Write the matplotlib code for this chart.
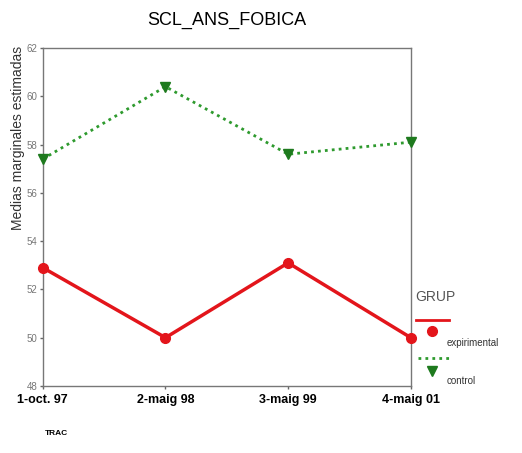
import numpy as np
import matplotlib
matplotlib.use('Agg')
import matplotlib.pyplot as plt
from matplotlib.lines import Line2D

plt.rcParams['font.family'] = ['Liberation Sans', 'DejaVu Sans']

categories = ['1-oct. 97', '2-maig 98', '3-maig 99', '4-maig 01']
experimental = [52.9, 50.0, 53.1, 50.0]
control = [57.4, 60.4, 57.6, 58.1]
yticks = [48, 50, 52, 54, 56, 58, 60, 62]

fig = plt.figure(figsize=(5.22, 4.53), dpi=100)
ax = fig.add_axes([0.082, 0.148, 0.705, 0.746])

x = np.arange(len(categories))
ax.plot(x, experimental, color='#e3151b', lw=2.5, marker='o', ms=7,
        solid_joinstyle='miter', clip_on=False, zorder=3)
ax.plot(x, control, color='#2e9a2e', lw=2, ls=(0, (1, 1.5)), marker='v', ms=7,
        markerfacecolor='#1e7a1e', markeredgecolor='#1e7a1e', clip_on=False,
        zorder=3)

ax.set_xlim(0, len(categories) - 1)
ax.set_ylim(48, 62)
ax.set_xticks(x)
ax.set_xticklabels(categories, fontsize=9, fontweight='bold')
ax.set_yticks(yticks)
ax.set_yticklabels([str(v) for v in yticks], fontsize=7, color='#777777')
ax.tick_params(axis='y', length=2, width=1, color='#666666', pad=2)
ax.tick_params(axis='x', length=2, width=1, color='#666666', pad=4)
for s in ax.spines.values():
    s.set_color('#777777')
    s.set_linewidth(1)

fig.text(0.435, 0.955, 'SCL_ANS_FOBICA', ha='center', va='center', fontsize=13)
fig.text(0.035, 0.695, 'Medias marginales estimadas', rotation=90,
         ha='center', va='center', fontsize=10, color='#333333')
fig.text(0.086, 0.04, 'TRAC', fontsize=6, fontweight='bold')

# legend
fig.text(0.795, 0.345, 'GRUP', fontsize=10, color='#555555', va='center')
fig.add_artist(Line2D([0.797, 0.86], [0.293, 0.293], color='#e3151b', lw=2))
fig.add_artist(Line2D([0.828], [0.27], color='#e3151b', marker='o', ms=7))
fig.text(0.855, 0.243, 'expirimental', fontsize=7, va='center', color='#333333')
fig.add_artist(Line2D([0.8, 0.86], [0.21, 0.21], color='#2e9a2e', lw=2,
                      ls=(0, (1, 1.5))))
fig.add_artist(Line2D([0.828], [0.18], color='#1e7a1e', marker='v', ms=7))
fig.text(0.855, 0.16, 'control', fontsize=7, va='center', color='#333333')

fig.savefig('out.png', dpi=100)
